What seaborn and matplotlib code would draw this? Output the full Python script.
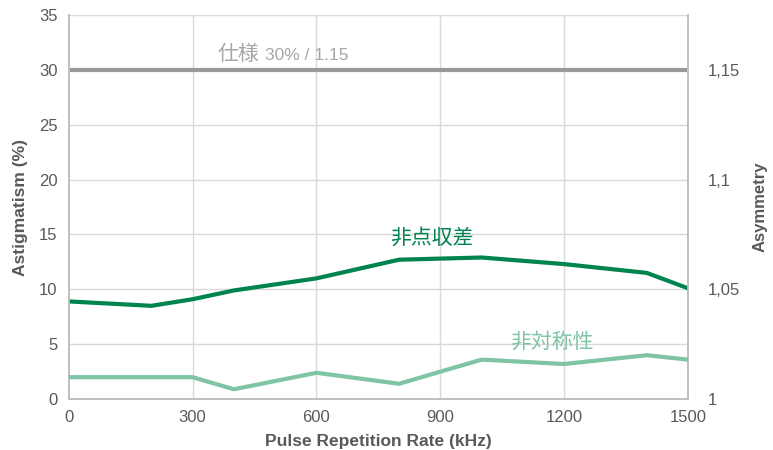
import numpy as np
import pandas as pd
import matplotlib
matplotlib.use("Agg")
import matplotlib.pyplot as plt
import seaborn as sns

# Data
rate_khz = [0, 200, 300, 400, 600, 800, 1000, 1200, 1400, 1500]
astigmatism = [8.9, 8.5, 9.1, 9.9, 11.0, 12.7, 12.9, 12.3, 11.5, 10.1]
asymmetry = [1.010, 1.010, 1.010, 1.0045, 1.012, 1.007, 1.018, 1.016, 1.020, 1.018]
spec_astig = 30
spec_asym = 1.15

left_ticks = [0, 5, 10, 15, 20, 25, 30, 35]
right_ticks = [1, 1.05, 1.1, 1.15]
right_labels = ["1", "1,05", "1,1", "1,15"]
x_ticks = [0, 300, 600, 900, 1200, 1500]

sns.set_style("white")
plt.rcParams['font.family'] = ['Liberation Sans', 'Noto Sans CJK JP']

dark_green = "#00844f"
light_green = "#7fc4a4"
tick_grey = "#595959"

df = pd.DataFrame({"rate": rate_khz, "astig": astigmatism, "asym": asymmetry})

fig, ax = plt.subplots(figsize=(7.73, 4.5), dpi=100)
fig.subplots_adjust(left=0.089, right=0.89, top=0.967, bottom=0.113)

for y in left_ticks:
    ax.axhline(y, color="#d9d9d9", lw=1, zorder=0)
for x in x_ticks[1:-1]:
    ax.axvline(x, color="#d9d9d9", lw=1, zorder=0)

ax.axhline(spec_astig, color="#999999", lw=3, zorder=2)
sns.lineplot(data=df, x="rate", y="astig", ax=ax, color=dark_green, lw=3, zorder=4)

ax.set_xlim(0, 1500)
ax.set_ylim(0, 35)
ax.set_xticks(x_ticks)
ax.set_yticks(left_ticks)
ax.tick_params(colors=tick_grey, labelsize=12, length=0, pad=8)
ax.set_xlabel("Pulse Repetition Rate (kHz)", fontsize=12.5, fontweight="bold",
              color=tick_grey, labelpad=6)
ax.set_ylabel("Astigmatism (%)", fontsize=12.5, fontweight="bold",
              color=tick_grey, labelpad=8)

ax2 = ax.twinx()
sns.lineplot(data=df, x="rate", y="asym", ax=ax2, color=light_green, lw=3, zorder=3)
ax2.set_ylim(1, 1 + 35 / 200)
ax2.set_yticks(right_ticks)
ax2.set_yticklabels(right_labels)
ax2.tick_params(colors=tick_grey, labelsize=12, length=0, pad=14)
ax2.set_ylabel("Asymmetry", fontsize=12, fontweight="bold",
               color=tick_grey, labelpad=9)

for a in (ax, ax2):
    for side in ("left", "bottom", "right"):
        a.spines[side].set_color("#bfbfbf")
        a.spines[side].set_linewidth(1.2)
    a.spines["top"].set_visible(False)

ax.text(360, 30.9, "仕様", fontsize=15, color="#a6a6a6", va="baseline")
ax.text(475, 30.9, "30% / 1.15", fontsize=12.5, color="#a6a6a6", va="baseline")
ax.text(778, 13.8, "非点収差", fontsize=15, color=dark_green, va="bottom")
ax.text(1069, 4.3, "非対称性", fontsize=15, color=light_green, va="bottom")

fig.savefig("out.png", dpi=100)
